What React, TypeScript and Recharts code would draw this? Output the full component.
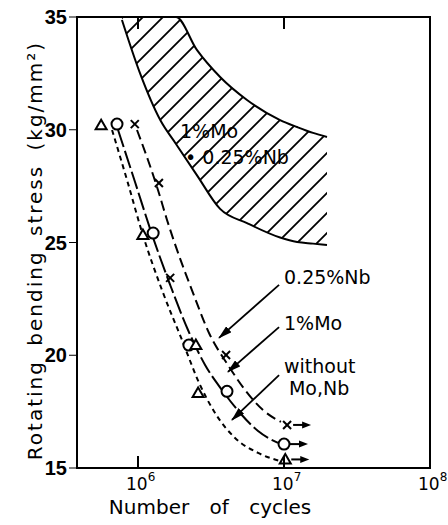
import React from 'react';
import * as R from 'recharts';
import { ComposedChart, XAxis, YAxis, Line, Area, Scatter, Label, CartesianGrid } from 'recharts';

// ---------- data ----------
const xTicks = [1e6, 1e7, 1e8];
const topTicks = [1e6, 1e7];
const yTicks = [15, 20, 25, 30, 35];
const xDomain = [3.82e5, 1e8];
const yDomain = [15, 35];

// hatched scatter band of 1%Mo + 0.25%Nb
const bandCycles = [7.76e5, 1.03e6, 1.42e6, 1.82e6, 2.53e6, 3.65e6, 5.58e6, 9.4e6, 1.23e7, 1.58e7, 1.97e7];
const bandLower = [34.87, 32.52, 30.43, 29.37, 27.99, 26.49, 25.86, 25.22, 25.02, 24.95, 24.89];
const bandUpper = [35, 35, 35, 35, 33.54, 32.34, 31.32, 30.43, 30.12, 29.86, 29.68];

// S-N curves
const nbCurveCycles = [9.84e5, 1.17e6, 1.37e6, 1.58e6, 1.85e6, 2.34e6, 3.11e6, 4.13e6, 5.41e6, 7.18e6, 9.53e6];
const nbCurveStress = [29.99, 28.66, 27.33, 26.0, 24.67, 22.89, 20.9, 19.57, 18.46, 17.57, 17.04];
const moCurveCycles = [7.3e5, 9.54e5, 1.25e6, 1.66e6, 2.2e6, 2.88e6, 3.76e6, 5.0e6, 6.64e6, 9.1e6];
const moCurveStress = [29.99, 27.68, 25.33, 23.12, 21.12, 19.57, 18.46, 17.44, 16.64, 16.11];
const baseCurveCycles = [6.64e5, 8.41e5, 1.08e6, 1.46e6, 2.0e6, 2.66e6, 3.37e6, 4.62e6, 6.64e6, 9.84e6];
const baseCurveStress = [29.99, 27.77, 25.33, 22.89, 20.68, 18.68, 17.44, 16.33, 15.67, 15.27];

// test points
const nbTestCycles = [9.5e5, 1.39e6, 1.66e6, 4.01e6];
const nbTestStress = [30.25, 27.64, 23.43, 20.01];
const moTestCycles = [7.18e5, 1.27e6, 2.23e6, 4.07e6];
const moTestStress = [30.25, 25.42, 20.45, 18.4];
const baseTestCycles = [5.59e5, 1.08e6, 2.49e6, 2.58e6];
const baseTestStress = [30.2, 25.33, 20.45, 18.33];

// run-outs (not broken)
const nbRunCycles = [1.05e7];
const nbRunStress = [16.91];
const moRunCycles = [1.0e7];
const moRunStress = [16.06];
const baseRunCycles = [1.02e7];
const baseRunStress = [15.38];

// annotations
const noteTexts = ['0.25%Nb', '1%Mo', 'without', 'Mo,Nb', '1%Mo', '\u2022 0.25%Nb'];
const noteCycles = [1.0e7, 1.0e7, 1.0e7, 1.08e7, 1.94e6, 2.1e6];
const noteStress = [23.16, 21.12, 19.21, 18.24, 29.63, 28.48];
const arrowStartCycles = [9.25e6, 9.25e6, 9.25e6];
const arrowStartStress = [23.12, 21.25, 19.12];
const arrowEndCycles = [3.59e6, 4.13e6, 4.4e6];
const arrowEndStress = [20.77, 19.26, 17.13];

// ---------- build (module level, stable) ----------
const zip = (xs: number[], ys: number[]) => xs.map((x, i) => ({ x, y: ys[i] }));
const bandData = bandCycles.map((x, i) => ({ x, band: [bandLower[i], bandUpper[i]] }));
const nbCurve = zip(nbCurveCycles, nbCurveStress);
const moCurve = zip(moCurveCycles, moCurveStress);
const baseCurve = zip(baseCurveCycles, baseCurveStress);
const tag = (xs: number[], ys: number[], kind: string, run: boolean) =>
  xs.map((x, i) => ({ x, y: ys[i], kind, run }));
const markerData = [
  ...tag(nbTestCycles, nbTestStress, 'x', false),
  ...tag(moTestCycles, moTestStress, 'o', false),
  ...tag(baseTestCycles, baseTestStress, 't', false),
  ...tag(nbRunCycles, nbRunStress, 'x', true),
  ...tag(moRunCycles, moRunStress, 'o', true),
  ...tag(baseRunCycles, baseRunStress, 't', true),
];
const noteData = noteCycles.map((x, i) => ({ x, y: noteStress[i], t: noteTexts[i] }));
const arrow0 = [{ x: arrowStartCycles[0], y: arrowStartStress[0] }, { x: arrowEndCycles[0], y: arrowEndStress[0] }];
const arrow1 = [{ x: arrowStartCycles[1], y: arrowStartStress[1] }, { x: arrowEndCycles[1], y: arrowEndStress[1] }];
const arrow2 = [{ x: arrowStartCycles[2], y: arrowStartStress[2] }, { x: arrowEndCycles[2], y: arrowEndStress[2] }];
const frameData = [
  { x: xDomain[0], y: yDomain[0] },
  { x: xDomain[1], y: yDomain[0] },
  { x: xDomain[1], y: yDomain[1] },
  { x: xDomain[0], y: yDomain[1] },
  { x: xDomain[0], y: yDomain[0] },
];
const topTickData = topTicks.map((x) => ({ x, y: yDomain[1] }));

const FONT = '"DejaVu Sans", sans-serif';
const SW = 2;

// ---------- frame from the chart's own plot area (if hook available) ----------
const usePA: any = (R as any).usePlotArea;
const PlotFrame = () => {
  const pa = usePA ? usePA() : null;
  if (!pa) return null;
  return <rect x={pa.x} y={pa.y} width={pa.width} height={pa.height} fill="none" stroke="#000" strokeWidth={SW} />;
};

// ---------- shapes ----------
const markerShape = (p: any) => {
  const { cx, cy, payload } = p;
  let m;
  if (payload.kind === 'x') {
    m = (
      <g>
        <line x1={cx - 4} y1={cy - 4} x2={cx + 4} y2={cy + 4} stroke="#000" strokeWidth={SW} />
        <line x1={cx - 4} y1={cy + 4} x2={cx + 4} y2={cy - 4} stroke="#000" strokeWidth={SW} />
      </g>
    );
  } else if (payload.kind === 'o') {
    m = <circle cx={cx} cy={cy} r={5.5} fill="#fff" stroke="#000" strokeWidth={SW} />;
  } else {
    m = <polygon points={`${cx},${cy - 5.5} ${cx - 5.5},${cy + 4} ${cx + 5.5},${cy + 4}`} fill="#fff" stroke="#000" strokeWidth={SW} />;
  }
  return (
    <g>
      {m}
      {payload.run ? (
        <g>
          <line x1={cx + 6} y1={cy} x2={cx + 18} y2={cy} stroke="#000" strokeWidth={SW} />
          <polygon points={`${cx + 24},${cy} ${cx + 15},${cy - 3.5} ${cx + 15},${cy + 3.5}`} fill="#000" />
        </g>
      ) : null}
    </g>
  );
};
const textShape = (p: any) => (
  <text x={p.cx} y={p.cy} fontFamily={FONT} fontSize={19} fill="#000">
    {p.payload.t}
  </text>
);
const topTickShape = (p: any) => <path d={`M${p.cx},${p.cy} L${p.cx},${p.cy + 12}`} stroke="#000" strokeWidth={SW} />;

const XTick = (p: any) => {
  const { x, y, payload } = p;
  const exp = Math.round(Math.log10(payload.value));
  return (
    <g>
      <path d={`M${x},${y} L${x},${y - 12}`} stroke="#000" strokeWidth={SW} />
      <text x={x - 12} y={y + 22} fontFamily={FONT} fontSize={17} fill="#000">
        10
        <tspan dy={-9} fontSize={12}>{exp}</tspan>
      </text>
    </g>
  );
};

const YTitle = (p: any) => {
  const vb = p.viewBox;
  const cx = 42;
  const cy = vb.y + vb.height / 2 + 8;
  return (
    <text
      x={cx}
      y={cy}
      transform={`rotate(-90, ${cx}, ${cy})`}
      textAnchor="middle"
      fontFamily={FONT}
      fontSize={20}
      letterSpacing={2}
      wordSpacing={6}
      fill="#000"
    >
      Rotating bending stress (kg/mm²)
    </text>
  );
};
const XTitle = (p: any) => {
  const vb = p.viewBox;
  return (
    <text x={vb.x + vb.width * 0.377} y={vb.y + 46} textAnchor="middle" fontFamily={FONT} fontSize={20} wordSpacing={14} fill="#000">
      Number of cycles
    </text>
  );
};

const gridH = (a: any) => (a && a.offset ? [a.offset.top, a.offset.top + a.offset.height] : []);
const gridV = (a: any) => (a && a.offset ? [a.offset.left, a.offset.left + a.offset.width] : []);

export default function App() {
  return (
    <div style={{ position: 'absolute', left: 0, top: 0, width: 448, height: 525 }}>
      <ComposedChart width={448} height={525} margin={{ top: 17, right: 18, bottom: 0, left: 0 }}>
        <defs>
          <pattern id="hatch" patternUnits="userSpaceOnUse" width={20} height={20}>
            <path d="M-5,5 L5,-5 M0,20 L20,0 M15,25 L25,15" stroke="#000" strokeWidth={1.8} />
          </pattern>
          <marker id="ah" markerUnits="userSpaceOnUse" markerWidth={14} markerHeight={8} refX={13} refY={4} orient="auto">
            <path d="M0,0 L14,4 L0,8 z" fill="#000" />
          </marker>
        </defs>
        <CartesianGrid
          stroke="#000"
          strokeWidth={SW}
          strokeOpacity={1}
          fill="none"
          horizontalCoordinatesGenerator={gridH}
          verticalCoordinatesGenerator={gridV}
        />
        <XAxis
          dataKey="x"
          type="number"
          scale="log"
          domain={xDomain}
          ticks={xTicks}
          interval={0}
          height={57}
          stroke="#000"
          tickLine={false}
          tickSize={0}
          tickMargin={0}
          tick={<XTick />}
        >
          <Label content={<XTitle />} />
        </XAxis>
        <YAxis
          dataKey="y"
          type="number"
          domain={yDomain}
          ticks={yTicks}
          interval={0}
          width={77}
          stroke="#000"
          tickSize={8}
          tickMargin={2}
          tick={{ fill: '#000', fontSize: 20, fontWeight: 'bold', fontFamily: '"Liberation Sans", sans-serif' }}
        >
          <Label content={<YTitle />} />
        </YAxis>

        <Area
          data={bandData}
          dataKey="band"
          type="monotone"
          fill="url(#hatch)"
          fillOpacity={1}
          stroke="#000"
          strokeWidth={SW}
          dot={false}
          activeDot={false}
          isAnimationActive={false}
        />

        <Line data={frameData} dataKey="y" type="linear" stroke="#000" strokeWidth={SW} dot={false} activeDot={false} isAnimationActive={false} />
        <Scatter data={topTickData} dataKey="y" shape={topTickShape} isAnimationActive={false} />

        <Line data={nbCurve} dataKey="y" type="monotone" stroke="#000" strokeWidth={SW} strokeDasharray="10 5" dot={false} activeDot={false} isAnimationActive={false} />
        <Line data={moCurve} dataKey="y" type="monotone" stroke="#000" strokeWidth={SW} strokeDasharray="18 4" dot={false} activeDot={false} isAnimationActive={false} />
        <Line data={baseCurve} dataKey="y" type="monotone" stroke="#000" strokeWidth={SW} strokeDasharray="5 4" dot={false} activeDot={false} isAnimationActive={false} />

        <Line data={arrow0} dataKey="y" type="linear" stroke="#000" strokeWidth={1.8} markerEnd="url(#ah)" dot={false} activeDot={false} isAnimationActive={false} />
        <Line data={arrow1} dataKey="y" type="linear" stroke="#000" strokeWidth={1.8} markerEnd="url(#ah)" dot={false} activeDot={false} isAnimationActive={false} />
        <Line data={arrow2} dataKey="y" type="linear" stroke="#000" strokeWidth={1.8} markerEnd="url(#ah)" dot={false} activeDot={false} isAnimationActive={false} />

        <Scatter data={markerData} dataKey="y" shape={markerShape} isAnimationActive={false} />
        <Scatter data={noteData} dataKey="y" shape={textShape} isAnimationActive={false} />
        <PlotFrame />
      </ComposedChart>
    </div>
  );
}
